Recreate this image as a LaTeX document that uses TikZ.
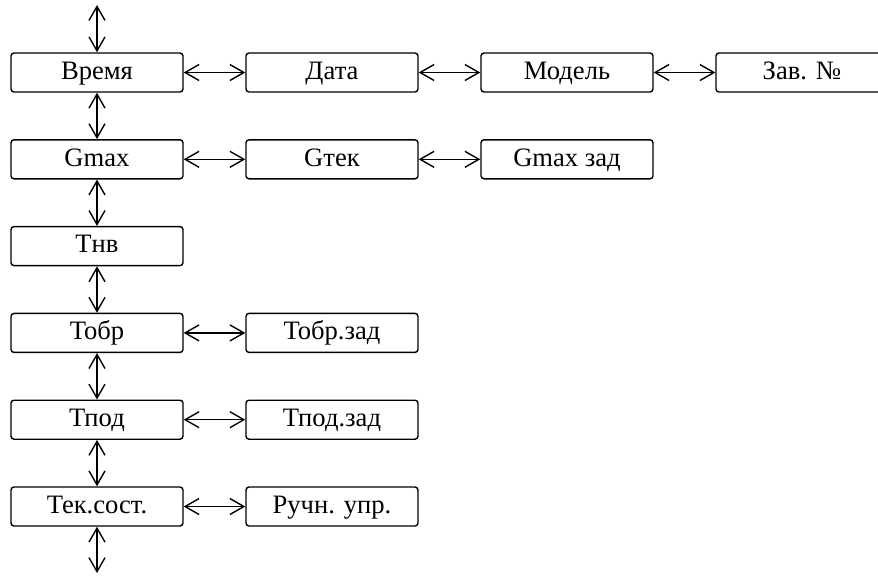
\documentclass[tikz,border=0pt]{standalone}
\usepackage{fontspec}
\setmainfont{Liberation Serif}
\usetikzlibrary{arrows.meta,positioning}

\tikzset{
  blk/.style={rectangle, draw, rounded corners=1.5pt, minimum width=86pt, minimum height=19.5pt, inner sep=0pt, text height=9pt, text depth=2.2pt, font=\fontsize{13.3}{15}\selectfont},
  link/.style={{Straight Barb[length=7pt,width=8pt]}-{Straight Barb[length=7pt,width=8pt]}}
}

\begin{document}
\begin{tikzpicture}[x=0.5pt, y=-0.5pt, node distance=43.4pt, line width=0.7pt]
    \useasboundingbox (0,0) rectangle (878,575);
    \node[blk] (vremya) at (97,72.5) {Время};
    \node[blk] (data) [right of=vremya, node distance=117.5pt] {Дата};
    \node[blk] (model) [right of=data, node distance=117.5pt] {Модель};
    \node[blk] (zav) [right of=model, node distance=117.5pt] {Зав. №};
    \node[blk] (gmax) [below of=vremya] {Gmax};
    \node[blk] (gtek) [right of=gmax, node distance=117.5pt] {Gтек};
    \node[blk] (gzad) [right of=gtek, node distance=117.5pt] {Gmax зад};
    \node[blk] (tnv) [below of=gmax] {Тнв};
    \node[blk] (tobr) [below of=tnv] {Тобр};
    \node[blk] (tobrzad) [right of=tobr, node distance=117.5pt] {Тобр.зад};
    \node[blk] (tpod) [below of=tobr] {Тпод};
    \node[blk] (tpodzad) [right of=tpod, node distance=117.5pt] {Тпод.зад};
    \node[blk] (tek) [below of=tpod] {Тек.сост.};
    \node[blk] (ruchn) [right of=tek, node distance=117.5pt] {Ручн. упр.};
    \coordinate (top) at (97,5);
    \coordinate (bot) at (97,573);

    % vertical chain
    \draw[link] (top) -- (vremya);
    \draw[link] (vremya) -- (gmax);
    \draw[link] (gmax) -- (tnv);
    \draw[link] (tnv) -- (tobr);
    \draw[link] (tobr) -- (tpod);
    \draw[link] (tpod) -- (tek);
    \draw[link] (tek) -- (bot);

    % rows
    \draw[link] (vremya) -- (data);
    \draw[link] (data) -- (model);
    \draw[link] (model) -- (zav);
    \draw[link] (gmax) -- (gtek);
    \draw[link] (gtek) -- (gzad);
    \draw[link] (tobr) -- (tobrzad);
    \draw[link] (tpod) -- (tpodzad);
    \draw[link] (tek) -- (ruchn);
\end{tikzpicture}
\end{document}
